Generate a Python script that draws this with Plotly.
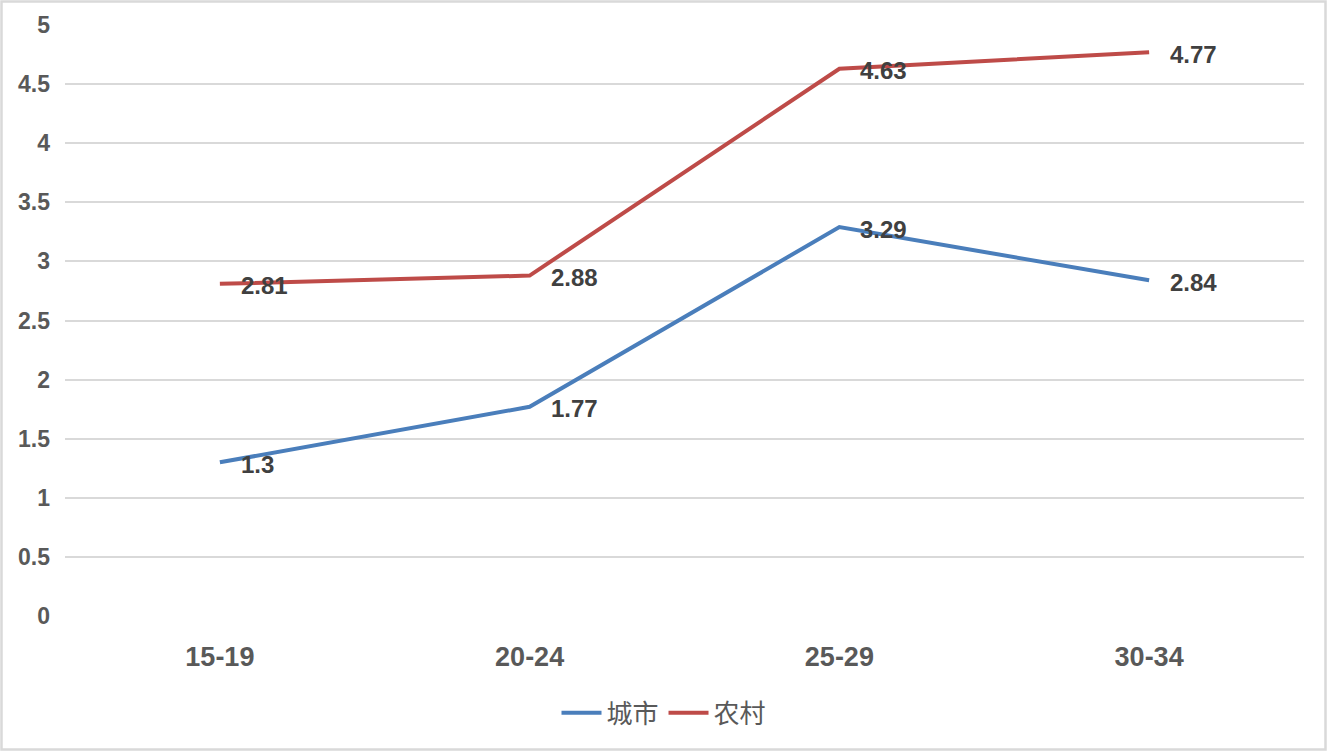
import plotly.graph_objects as go

# age groups and values
age_groups = ["15-19", "20-24", "25-29", "30-34"]
urban = [1.3, 1.77, 3.29, 2.84]
rural = [2.81, 2.88, 4.63, 4.77]
y_ticks = [0, 0.5, 1, 1.5, 2, 2.5, 3, 3.5, 4, 4.5, 5]

W, H = 1328, 752
ML, MR, MT, MB = 65, 24, 25, 136
PW, PH = W - ML - MR, H - MT - MB

BLUE = "#4A7EBB"
RED = "#BE4B48"
GRID = "#D9D9D9"
TICK = "#595959"
LABEL = "#404040"
FONT = "Liberation Sans, Arial, sans-serif"

fig = go.Figure()
fig.add_trace(go.Scatter(x=age_groups, y=urban, name="城市", mode="lines",
                         line=dict(color=BLUE, width=4)))
fig.add_trace(go.Scatter(x=age_groups, y=rural, name="农村", mode="lines",
                         line=dict(color=RED, width=4)))

# data labels to the right of each point
for series in (urban, rural):
    for cat, val in zip(age_groups, series):
        fig.add_annotation(x=cat, y=val, text="<b>%g</b>" % val, showarrow=False,
                           xanchor="left", yanchor="middle", xshift=19, yshift=-2,
                           font=dict(family=FONT, size=24, color=LABEL))

# light border around the whole picture
fig.add_shape(type="rect", xref="paper", yref="paper",
              x0=-(ML - 1.5) / PW, x1=1 + (MR - 2.5) / PW,
              y0=-(MB - 2.5) / PH, y1=1 + (MT - 1.5) / PH,
              line=dict(color=GRID, width=2.5), layer="below")

fig.update_layout(
    width=W, height=H,
    margin=dict(l=ML, r=MR, t=MT, b=MB),
    paper_bgcolor="white", plot_bgcolor="white",
    font=dict(family=FONT, color=TICK),
    legend=dict(orientation="h", xref="container", yref="container",
                x=0.5, xanchor="center", y=0.052, yanchor="middle",
                font=dict(family="Noto Sans CJK SC", size=26, color=TICK),
                itemwidth=40, tracegroupgap=0),
    showlegend=True,
)
fig.update_xaxes(range=[-0.5, 3.5], tickvals=age_groups,
                 ticktext=["<b>%s</b>" % a for a in age_groups],
                 showgrid=False, showline=False, zeroline=False, ticks="",
                 tickfont=dict(family=FONT, size=27, color=TICK),
                 ticklabelstandoff=22)
fig.update_yaxes(range=[0, 5], tickvals=y_ticks, ticktext=["<b>%g</b>" % v for v in y_ticks],
                 showgrid=True, gridcolor=GRID, gridwidth=1.5,
                 zeroline=False, showline=False, ticks="",
                 tickfont=dict(family=FONT, size=23, color=TICK),
                 ticklabelstandoff=14)

fig.write_html("out.html", config={"displayModeBar": False},
               post_script="document.body.style.margin='0';")
